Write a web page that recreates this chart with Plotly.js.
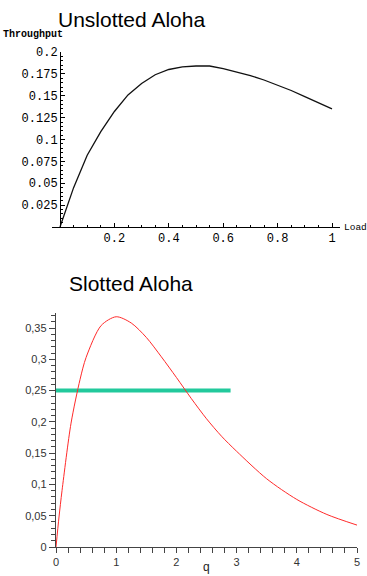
<!DOCTYPE html>
<html>
<head>
<meta charset="utf-8">
<script src="https://cdn.plot.ly/plotly-3.0.1.min.js"></script>
<style>html,body{margin:0;padding:0;background:#fff;}#chart{width:367px;height:576px;}</style>
</head>
<body>
<div id="chart"></div>
<script>
// Unslotted (pure) Aloha: load vs throughput
const loadX = [0, 0.05, 0.1, 0.15, 0.2, 0.25, 0.3, 0.35, 0.4, 0.45, 0.5, 0.55, 0.6, 0.65, 0.7, 0.75, 0.8, 0.85, 0.9, 0.95, 1.0];
const throughputY = [0, 0.045, 0.082, 0.109, 0.132, 0.151, 0.164, 0.174, 0.180, 0.183, 0.184, 0.184, 0.181, 0.177, 0.173, 0.168, 0.162, 0.156, 0.149, 0.142, 0.135];
const topXTicks = [0.2, 0.4, 0.6, 0.8, 1];
const topXTickText = ["0.2", "0.4", "0.6", "0.8", "1"];
const topYTicks = [0.025, 0.05, 0.075, 0.1, 0.125, 0.15, 0.175, 0.2];
const topYTickText = ["0.025", "0.05", "0.075", "0.1", "0.125", "0.15", "0.175", "0.2"];

// Slotted Aloha: G vs S
const gX = [0, 0.05, 0.1, 0.25, 0.4, 0.5, 0.75, 1, 1.25, 1.5, 1.75, 2, 2.25, 2.5, 2.75, 3, 3.5, 4, 4.5, 5];
const slottedY = [0, 0.048, 0.09, 0.198, 0.268, 0.303, 0.354, 0.368, 0.358, 0.335, 0.304, 0.271, 0.237, 0.205, 0.177, 0.153, 0.109, 0.076, 0.052, 0.035];
const thresholdX = [0, 2.9];
const thresholdY = [0.25, 0.25];
const botXTicks = [0, 1, 2, 3, 4, 5];
const botXTickText = ["0", "1", "2", "3", "4", "5"];
const botYTicks = [0, 0.05, 0.1, 0.15, 0.2, 0.25, 0.3, 0.35];
const botYTickText = ["0", "0,05", "0,1", "0,15", "0,2", "0,25", "0,3", "0,35"];

const W = 367, H = 576;
const px = v => v / W;
const py = v => (H - v) / H;

const monoFont = {family: "Liberation Mono, Courier New, monospace", size: 12, color: "#000"};
const sansFont = {family: "Liberation Sans, Arial, sans-serif", size: 11, color: "#333"};

const traces = [
  {x: loadX, y: throughputY, xaxis: "x", yaxis: "y", mode: "lines",
   line: {color: "#111", width: 1.3}, hoverinfo: "none", showlegend: false},
  {x: thresholdX, y: thresholdY, xaxis: "x2", yaxis: "y2", mode: "lines",
   line: {color: "#22c99c", width: 4}, hoverinfo: "none", showlegend: false},
  {x: gX, y: slottedY, xaxis: "x2", yaxis: "y2", mode: "lines",
   line: {color: "#ff2a2a", width: 1, shape: "spline", smoothing: 0.8}, hoverinfo: "none", showlegend: false}
];

const layout = {
  width: W, height: H,
  margin: {l: 0, r: 0, t: 0, b: 0},
  paper_bgcolor: "#fff", plot_bgcolor: "rgba(0,0,0,0)",
  showlegend: false,
  xaxis: {
    domain: [px(52), px(340)], range: [-8/272, 1 + 8/272], anchor: "y",
    showline: true, linecolor: "#000", linewidth: 1, showgrid: false, zeroline: false,
    ticks: "inside", ticklen: 4, tickcolor: "#000", tickwidth: 1,
    tickmode: "array", tickvals: topXTicks, ticktext: topXTickText,
    tickfont: monoFont,
    minor: {dtick: 0.05, tick0: 0, ticks: "inside", ticklen: 2, tickcolor: "#000", showgrid: false}
  },
  yaxis: {
    domain: [py(227), py(52)], range: [0, 0.2], anchor: "free", position: px(60),
    showline: true, linecolor: "#000", linewidth: 1, showgrid: false, zeroline: false,
    ticks: "inside", ticklen: 4, tickcolor: "#000", tickwidth: 1,
    tickmode: "array", tickvals: topYTicks, ticktext: topYTickText,
    tickfont: monoFont,
    minor: {dtick: 0.005, tick0: 0, ticks: "inside", ticklen: 2, tickcolor: "#000", showgrid: false}
  },
  xaxis2: {
    domain: [px(56), px(357)], range: [0, 5], anchor: "y2",
    showline: true, linecolor: "#444", linewidth: 1.2, showgrid: false, zeroline: false,
    ticks: "outside", ticklen: 5, tickcolor: "#444", tickwidth: 1,
    tickmode: "array", tickvals: botXTicks, ticktext: botXTickText,
    tickfont: sansFont,
    minor: {dtick: 0.2, tick0: 0, ticks: "outside", ticklen: 5, tickcolor: "#444", showgrid: false}
  },
  yaxis2: {
    domain: [py(547), py(313)], range: [0, 0.374], anchor: "x2",
    showline: true, linecolor: "#444", linewidth: 1.2, showgrid: false, zeroline: false,
    ticks: "outside", ticklen: 6, tickcolor: "#444", tickwidth: 1,
    tickmode: "array", tickvals: botYTicks, ticktext: botYTickText,
    tickfont: sansFont,
    minor: {dtick: 0.01, tick0: 0, ticks: "outside", ticklen: 4, tickcolor: "#444", showgrid: false}
  },
  annotations: [
    {text: "Unslotted Aloha", xref: "paper", yref: "paper", x: px(56), y: py(19),
     xanchor: "left", yanchor: "middle", showarrow: false,
     font: {family: "Liberation Sans, Arial, sans-serif", size: 21, color: "#000"}},
    {text: "Throughput", xref: "paper", yref: "paper", x: px(1), y: py(34),
     xanchor: "left", yanchor: "middle", showarrow: false,
     font: {family: "Liberation Mono, Courier New, monospace", size: 10, color: "#000", weight: "bold"}},
    {text: "Load", xref: "paper", yref: "paper", x: px(342), y: py(227),
     xanchor: "left", yanchor: "middle", showarrow: false,
     font: {family: "Liberation Mono, Courier New, monospace", size: 9.5, color: "#000"}},
    {text: "Slotted Aloha", xref: "paper", yref: "paper", x: px(67), y: py(283),
     xanchor: "left", yanchor: "middle", showarrow: false,
     font: {family: "Liberation Sans, Arial, sans-serif", size: 21, color: "#000"}},
    {text: "q", xref: "x2", yref: "paper", x: 2.5, y: py(567),
     xanchor: "center", yanchor: "middle", showarrow: false,
     font: {family: "Liberation Sans, Arial, sans-serif", size: 12, color: "#222"}}
  ]
};

Plotly.newPlot("chart", traces, layout, {staticPlot: true, displayModeBar: false});
</script>
</body>
</html>
